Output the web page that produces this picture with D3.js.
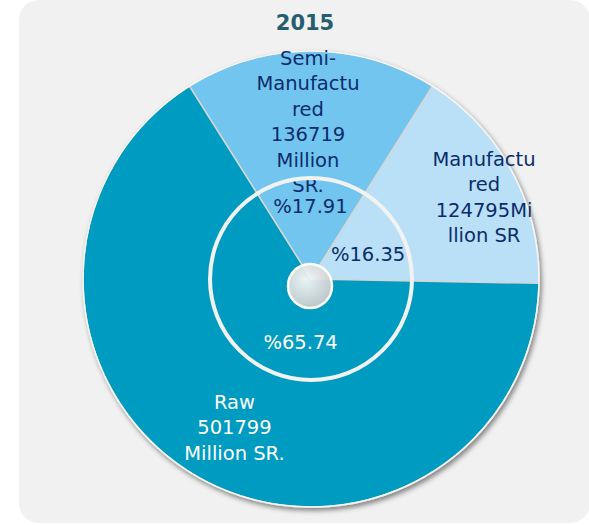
<!DOCTYPE html>
<html>
<head>
<meta charset="utf-8">
<script src="https://cdn.jsdelivr.net/npm/d3@7"></script>
<style>
  body { margin: 0; background: #ffffff; }
  text { font-family: "DejaVu Sans", sans-serif; }
</style>
</head>
<body>
<script>
// data
var categories = ["Semi-Manufactured", "Manufactured", "Raw"];
var values = [136719, 124795, 501799];
var nameLines = [
  ["Semi-", "Manufactu", "red", "136719", "Million", "SR."],
  ["Manufactu", "red", "124795Mi", "llion SR"],
  ["Raw", "501799", "Million SR."]
];
var pctLabels = ["%17.91", "%16.35", "%65.74"];
var title = "2015";

// layout
var width = 589, height = 525;
var cx = 311, cy = 279, radius = 228;
var colors = ["#72c5ef", "#b9e0f6", "#009bc0"];
var textColors = ["#0b2c6c", "#0b2c6c", "#ffffff"];
var nameRadius = [157.5, 191.5, 167];
var nameShift = [[-3, 0], [4.5, 9], [5.5, 3]];
var pctRadius = [73, 62, 64];
var pctShift = [[-0.5, 0], [2.5, 4.5], [21, 7]];
var lineH = 25.4;

var svg = d3.select("body").append("svg")
    .attr("width", width)
    .attr("height", height);

var defs = svg.append("defs");
var shadow = defs.append("filter")
    .attr("id", "shadow")
    .attr("x", "-10%").attr("y", "-10%")
    .attr("width", "120%").attr("height", "120%");
shadow.append("feDropShadow")
    .attr("dx", 2).attr("dy", 3)
    .attr("stdDeviation", 2.5)
    .attr("flood-color", "#000")
    .attr("flood-opacity", 0.45);

var grad = defs.append("radialGradient")
    .attr("id", "hub")
    .attr("cx", "40%").attr("cy", "35%").attr("r", "70%");
grad.append("stop").attr("offset", "0%").attr("stop-color", "#fafafa").attr("stop-opacity", 0.93);
grad.append("stop").attr("offset", "100%").attr("stop-color", "#c8c8c8").attr("stop-opacity", 0.93);

// panel background
svg.append("rect")
    .attr("x", 19).attr("y", 0)
    .attr("width", 571).attr("height", 523)
    .attr("rx", 20)
    .attr("fill", "#f1f1f1");

svg.append("text")
    .attr("x", 305).attr("y", 30)
    .attr("text-anchor", "middle")
    .attr("font-size", "21px")
    .attr("font-weight", "bold")
    .attr("fill", "#245e70")
    .text(title);

var a0 = -Math.PI * values[0] / d3.sum(values);
var pie = d3.pie().sort(null)
    .startAngle(a0)
    .endAngle(a0 + 2 * Math.PI);
var arcs = pie(values);

var arc = d3.arc().innerRadius(0).outerRadius(radius);

var g = svg.append("g")
    .attr("transform", "translate(" + cx + "," + cy + ")");

var slices = g.append("g").attr("filter", "url(#shadow)");
slices.selectAll("path")
    .data(arcs)
  .enter().append("path")
    .attr("d", arc)
    .attr("fill", function(d, i) { return colors[i]; })
    .attr("stroke", "#d6d6d6")
    .attr("stroke-width", 1.5);

// outer rim
g.append("circle")
    .attr("r", radius)
    .attr("fill", "none")
    .attr("stroke", "#f6f6f6")
    .attr("stroke-width", 1.5);

// category labels
arcs.forEach(function(d, i) {
  var c = d3.arc().innerRadius(nameRadius[i]).outerRadius(nameRadius[i]).centroid(d);
  var x = c[0] + nameShift[i][0], y = c[1] + nameShift[i][1];
  var lines = nameLines[i];
  var t = g.append("text")
      .attr("text-anchor", "middle")
      .attr("font-size", "19.5px")
      .attr("fill", textColors[i]);
  lines.forEach(function(l, k) {
    t.append("tspan")
      .attr("x", x)
      .attr("y", y + (k - (lines.length - 1) / 2) * lineH + 7)
      .text(l);
  });
});

// inner ring
g.append("circle")
    .attr("r", 101)
    .attr("fill", "none")
    .attr("stroke", "#f2f2f2")
    .attr("stroke-width", 4);

// percent labels
g.selectAll(".pct")
    .data(arcs)
  .enter().append("text")
    .attr("class", "pct")
    .attr("text-anchor", "middle")
    .attr("font-size", "19.5px")
    .attr("fill", function(d, i) { return textColors[i]; })
    .attr("transform", function(d, i) {
      var c = d3.arc().innerRadius(pctRadius[i]).outerRadius(pctRadius[i]).centroid(d);
      return "translate(" + (c[0] + pctShift[i][0]) + "," + (c[1] + pctShift[i][1] + 7) + ")";
    })
    .text(function(d, i) { return pctLabels[i]; });

// hub
g.append("circle")
    .attr("cx", -1).attr("cy", 7)
    .attr("r", 22)
    .attr("fill", "url(#hub)")
    .attr("stroke", "#ffffff")
    .attr("stroke-width", 2.5);
</script>
</body>
</html>
